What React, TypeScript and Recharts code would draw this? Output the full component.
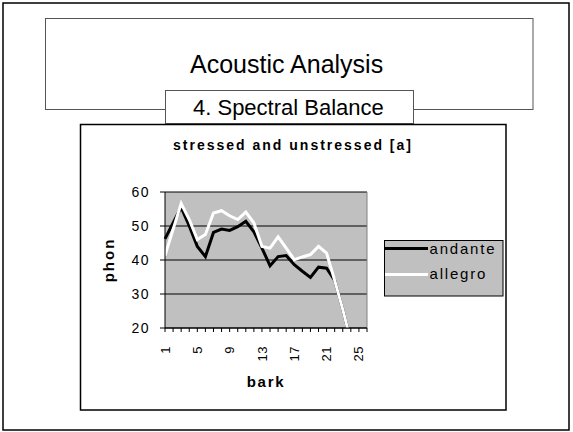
import React from 'react';
import { LineChart, Line, XAxis, YAxis, CartesianGrid, ReferenceLine } from 'recharts';

const barks = [1, 2, 3, 4, 5, 6, 7, 8, 9, 10, 11, 12, 13, 14, 15, 16, 17, 18, 19, 20, 21, 22, 23, 24, 25, 26];
const andante = [46.2, 50.9, 55.5, 50, 44, 41, 48.1, 49.1, 48.7, 49.8, 51.4, 48.3, 43.5, 38.3, 41, 41.3, 38.6, 36.7, 34.9, 37.9, 37.6, 34, 25.5, 16, null, null];
const allegro = [41.3, 49, 56.6, 51.9, 46, 47.5, 53.8, 54.5, 53, 51.9, 54.1, 50.9, 44, 43.5, 46.8, 43.5, 40.1, 40.9, 41.6, 44, 42, 34, 25.5, 16, null, null];
const yTicks = [20, 30, 40, 50, 60];
const labelledBarks = [1, 5, 9, 13, 17, 21, 25];

const seriesNames = ['andante', 'allegro'];
const seriesColors = ['#000000', '#FFFFFF'];

const data = barks.map((b, i) => ({ bark: b, andante: andante[i], allegro: allegro[i] }));

const FONT = '"Liberation Sans", Arial, sans-serif';

const XTick = (props: any) => {
  const { x, y, payload } = props;
  if (!labelledBarks.includes(payload.value)) return <g />;
  return (
    <text
      x={x}
      y={y}
      transform={`rotate(-90 ${x} ${y})`}
      textAnchor="end"
      dy="0.35em"
      fontSize={13}
      letterSpacing={0.5}
      fontFamily={FONT}
      fill="#000"
    >
      {payload.value}
    </text>
  );
};

const YTick = (props: any) => {
  const { x, y, payload } = props;
  return (
    <text x={x} y={y} textAnchor="end" dy="0.35em" fontSize={14} letterSpacing={1.5} fontFamily={FONT} fill="#000">
      {payload.value}
    </text>
  );
};

export default function App() {
  return (
    <div style={{ position: 'absolute', left: 0, top: 0, width: 573, height: 432, background: '#fff' }}>
      <svg width={573} height={432} style={{ position: 'absolute', left: 0, top: 0 }}>
        <rect x={3} y={3} width={566} height={427} fill="#fff" stroke="#000" strokeWidth={1.5} />
        <rect x={45.5} y={18.5} width={487.5} height={91} fill="#fff" stroke="#555" strokeWidth={1} />
        <text x={190} y={73.3} fontSize={25} fontFamily={FONT} fill="#000">
          Acoustic Analysis
        </text>
        <rect x={165.5} y={90.5} width={248} height={33} fill="#fff" stroke="#555" strokeWidth={1} />
        <text x={193} y={115} fontSize={22} fontFamily={FONT} fill="#000">
          4. Spectral Balance
        </text>
        <rect x={80.5} y={124.5} width={425.5} height={285.5} fill="#fff" stroke="#000" strokeWidth={1.5} />
        <text x={293} y={150} textAnchor="middle" fontSize={14} fontWeight="bold" letterSpacing={2} fontFamily={FONT} fill="#000">
          stressed and unstressed [a]
        </text>
        <text
          x={109}
          y={260}
          transform="rotate(-90 109 260)"
          textAnchor="middle"
          dy="0.35em"
          fontSize={15}
          fontWeight="bold"
          letterSpacing={2}
          fontFamily={FONT}
          fill="#000"
        >
          phon
        </text>
        <text x={266} y={386.5} textAnchor="middle" fontSize={15} fontWeight="bold" letterSpacing={1.7} fontFamily={FONT} fill="#000">
          bark
        </text>
        <rect x={384.5} y={240.5} width={118.5} height={55.5} fill="#C0C0C0" stroke="#000" strokeWidth={1} />
        <line x1={385} x2={428} y1={248.5} y2={248.5} stroke={seriesColors[0]} strokeWidth={3} />
        <text x={429.5} y={254.3} fontSize={15} letterSpacing={1.8} fontFamily={FONT} fill="#000">
          {seriesNames[0]}
        </text>
        <line x1={385} x2={428} y1={274.5} y2={274.5} stroke={seriesColors[1]} strokeWidth={3} />
        <text x={429.5} y={279.3} fontSize={15} letterSpacing={1.8} fontFamily={FONT} fill="#000">
          {seriesNames[1]}
        </text>
      </svg>
      <div style={{ position: 'absolute', left: 0, top: 0 }}>
        <LineChart
          width={573}
          height={432}
          data={data}
          margin={{ top: 192, right: 206, bottom: 64, left: 105 }}
        >
          <CartesianGrid vertical={false} stroke="#000" strokeWidth={1} fill="#C0C0C0" fillOpacity={1} />
          <XAxis
            dataKey="bark"
            type="category"
            interval={0}
            tickSize={4}
            tickMargin={14}
            height={40}
            axisLine={{ stroke: '#000', strokeWidth: 1 }}
            tickLine={{ stroke: '#000', strokeWidth: 1 }}
            tick={<XTick />}
          />
          <YAxis
            type="number"
            domain={[20, 60]}
            ticks={yTicks}
            allowDataOverflow
            width={60}
            tickSize={5}
            tickMargin={10}
            axisLine={{ stroke: '#000', strokeWidth: 1 }}
            tickLine={{ stroke: '#000', strokeWidth: 1 }}
            tick={<YTick />}
          />
          <ReferenceLine x={26} stroke="#808080" strokeWidth={1} />
          <Line
            type="linear"
            dataKey="andante"
            stroke={seriesColors[0]}
            strokeWidth={3}
            dot={false}
            isAnimationActive={false}
          />
          <Line
            type="linear"
            dataKey="allegro"
            stroke={seriesColors[1]}
            strokeWidth={3}
            dot={false}
            isAnimationActive={false}
          />
        </LineChart>
      </div>
    </div>
  );
}
